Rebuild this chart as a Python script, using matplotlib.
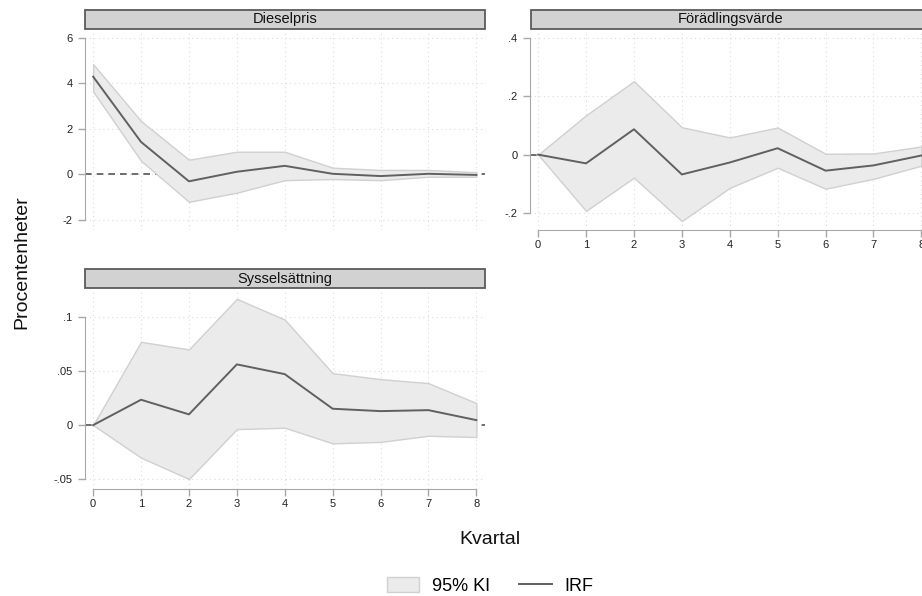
import matplotlib.pyplot as plt
from matplotlib.patches import Rectangle
from matplotlib.lines import Line2D

plt.rcParams['font.family'] = ['Liberation Sans', 'DejaVu Sans']

# Data
quarters = [0, 1, 2, 3, 4, 5, 6, 7, 8]

diesel_irf = [4.3, 1.43, -0.3, 0.12, 0.38, 0.03, -0.07, 0.03, -0.02]
diesel_hi = [4.85, 2.35, 0.65, 1.0, 1.0, 0.3, 0.2, 0.2, 0.1]
diesel_lo = [3.65, 0.6, -1.2, -0.8, -0.25, -0.2, -0.25, -0.1, -0.1]

fv_irf = [0, -0.03, 0.087, -0.068, -0.027, 0.022, -0.055, -0.037, -0.003]
fv_hi = [0, 0.135, 0.252, 0.094, 0.059, 0.093, 0.003, 0.004, 0.028]
fv_lo = [0, -0.193, -0.079, -0.228, -0.114, -0.045, -0.117, -0.083, -0.038]

syss_irf = [0, 0.0234, 0.0099, 0.056, 0.047, 0.0151, 0.0129, 0.0138, 0.0046]
syss_hi = [0, 0.0768, 0.0698, 0.1164, 0.0973, 0.0479, 0.0424, 0.0387, 0.0203]
syss_lo = [0, -0.030, -0.0497, -0.0037, -0.0024, -0.0168, -0.0155, -0.0098, -0.011]

W, H = 922, 596
fig = plt.figure(figsize=(W / 100, H / 100), dpi=100)


def px_axes(x0, y0, x1, y1):
    return fig.add_axes([x0 / W, 1 - y1 / H, (x1 - x0) / W, (y1 - y0) / H])


def title_bar(x0, y0, x1, y1, text):
    fig.add_artist(Rectangle((x0 / W, 1 - y1 / H), (x1 - x0) / W, (y1 - y0) / H,
                             transform=fig.transFigure, facecolor='#d2d2d2',
                             edgecolor='#5a5a5a', linewidth=1.3))
    fig.text((x0 + x1) / 2 / W, 1 - (y0 + y1) / 2 / H, text, ha='center', va='center',
             fontsize=10.5, color='#111111')


def panel(ax, irf, lo, hi, ylim, yticks, ylabels, show_x):
    ax.axhline(0, color='#555555', linestyle=(0, (4, 3)), linewidth=1.2, zorder=1)
    ax.fill_between(quarters, lo, hi, facecolor='#ebebeb', edgecolor='#d0d0d0',
                    linewidth=1.0, zorder=2)
    ax.plot(quarters, irf, color='#606060', linewidth=1.4, zorder=3)
    ax.set_xlim(-0.17, 8.18)
    ax.set_ylim(*ylim)
    ax.set_yticks(yticks)
    ax.set_yticklabels(ylabels)
    ax.set_xticks(quarters)
    for v in yticks:
        ax.axhline(v, color='#dcdcdc', linestyle=(0, (1, 3)), linewidth=0.8, zorder=0)
    for q in quarters:
        ax.axvline(q, color='#dcdcdc', linestyle=(0, (1, 3)), linewidth=0.8, zorder=0)
    ax.spines['top'].set_visible(False)
    ax.spines['right'].set_visible(False)
    ax.spines['left'].set_color('#a8a8a8')
    ax.spines['left'].set_bounds(yticks[0], yticks[-1])
    ax.tick_params(axis='y', colors='#a8a8a8', labelcolor='#222222', labelsize=8,
                   length=5, width=1, pad=4)
    if show_x:
        ax.spines['bottom'].set_color('#a8a8a8')
        ax.spines['bottom'].set_bounds(0, 8)
        ax.tick_params(axis='x', colors='#a8a8a8', labelcolor='#222222', labelsize=8,
                       length=5, width=1, pad=2)
    else:
        ax.spines['bottom'].set_visible(False)
        ax.tick_params(axis='x', length=0, labelbottom=False)


ax1 = px_axes(85, 30, 485, 230)
panel(ax1, diesel_irf, diesel_lo, diesel_hi, (-2.44, 6.35),
      [-2, 0, 2, 4, 6], ['-2', '0', '2', '4', '6'], False)
title_bar(85, 10, 485, 29, 'Dieselpris')

ax2 = px_axes(530, 30, 930, 230)
panel(ax2, fv_irf, fv_lo, fv_hi, (-0.2586, 0.4276),
      [-0.2, 0, 0.2, 0.4], ['-.2', '0', '.2', '.4'], True)
title_bar(531, 10, 931, 29, 'Förädlingsvärde')

ax3 = px_axes(85, 289, 485, 489)
panel(ax3, syss_irf, syss_lo, syss_hi, (-0.0589, 0.1255),
      [-0.05, 0, 0.05, 0.1], ['-.05', '0', '.05', '.1'], True)
title_bar(85, 269, 485, 288, 'Sysselsättning')

fig.text(22 / W, 1 - 262 / H, 'Procentenheter', rotation=90, ha='center', va='center',
         fontsize=14, color='#111111')
fig.text(490 / W, 1 - 539 / H, 'Kvartal', ha='center', va='center',
         fontsize=14, color='#111111')

handles = [Rectangle((0, 0), 1, 1, facecolor='#ebebeb', edgecolor='#d0d0d0', linewidth=1.0),
           Line2D([], [], color='#606060', linewidth=1.4)]
fig.legend(handles, ['95% KI', 'IRF'], loc='center', bbox_to_anchor=(490 / W, 1 - 586 / H),
           ncol=2, frameon=False, fontsize=13, handlelength=1.8, handleheight=0.9,
           columnspacing=1.6, handletextpad=0.7)

fig.savefig('out.png', dpi=100)
